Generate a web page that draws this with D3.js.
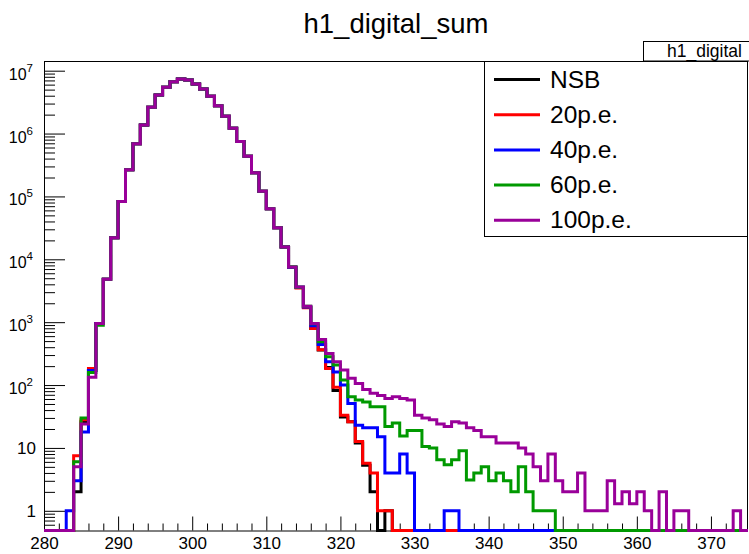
<!doctype html>
<html lang="en">
<head>
<meta charset="utf-8">
<title>h1_digital_sum</title>
<script src="https://cdn.jsdelivr.net/npm/d3@7"></script>
<style>
  body { margin: 0; background: #fff; }
  svg text { font-family: "Liberation Sans", Arial, Helvetica, sans-serif; fill: #000; }
</style>
</head>
<body>
<script>

// bins of width 1 from 280 to 375
var binEdges = d3.range(280, 376);

// bin contents, one value per bin (280 .. 374)
var nsb = [
    0, 0, 0, 0, 2, 26, 170, 950, 4800, 22100,
    83000, 265000, 687000, 1370000, 2610000, 4100000, 5430000, 6690000, 7380000, 7100000,
    6150000, 5130000, 3910000, 2780000, 1880000, 1210000, 747000, 436000, 238000, 121000,
    63800, 31800, 15700, 7450, 3600, 1720, 790, 360, 190, 82,
    31, 26, 12, 5.3, 2, 0, 1, 0, 0, 0,
    0, 0, 0, 0, 0, 0, 0, 0, 0, 0,
    0, 0, 0, 0, 0, 0, 0, 0, 0, 0,
    0, 0, 0, 0, 0, 0, 0, 0, 0, 0,
    0, 0, 0, 0, 0, 0, 0, 0, 0, 0,
    0, 0, 0, 0, 0
];
var pe20 = [
    0, 0, 0, 0, 7.5, 28, 184, 950, 4800, 22100,
    83000, 265000, 687000, 1370000, 2610000, 4100000, 5430000, 6690000, 7380000, 7100000,
    6150000, 5130000, 3910000, 2780000, 1880000, 1210000, 747000, 436000, 238000, 121000,
    63800, 31800, 15700, 7400, 3500, 1700, 790, 365, 184, 92,
    33, 26, 12.6, 5.7, 4, 1, 1, 0, 0, 0,
    0, 0, 0, 0, 0, 0, 0, 0, 0, 0,
    0, 0, 0, 0, 0, 0, 0, 0, 0, 0,
    0, 0, 0, 0, 0, 0, 0, 0, 0, 0,
    0, 0, 0, 0, 0, 0, 0, 0, 0, 0,
    0, 0, 0, 0, 0
];
var pe40 = [
    0, 0, 0, 1, 3, 18, 170, 950, 4800, 22100,
    83000, 265000, 687000, 1370000, 2610000, 4100000, 5430000, 6690000, 7380000, 7100000,
    6150000, 5130000, 3910000, 2780000, 1880000, 1210000, 747000, 436000, 238000, 121000,
    63800, 31800, 15700, 7500, 3600, 1750, 880, 440, 234, 162,
    100, 51, 23, 21, 21, 15, 4, 4, 8, 4,
    0, 0, 0, 0, 1, 1, 0, 0, 0, 0,
    0, 0, 0, 0, 0, 0, 0, 0, 0, 0,
    0, 0, 0, 0, 0, 0, 0, 0, 0, 0,
    0, 0, 0, 0, 0, 0, 0, 0, 0, 0,
    0, 0, 0, 0, 0
];
var pe60 = [
    0, 0, 0, 0, 6, 30, 158, 890, 4800, 22100,
    83000, 265000, 687000, 1370000, 2610000, 4100000, 5430000, 6690000, 7380000, 7100000,
    6150000, 5130000, 3910000, 2780000, 1880000, 1210000, 747000, 436000, 238000, 121000,
    63800, 31800, 15700, 7600, 3600, 1790, 940, 487, 281, 208,
    120, 65, 58, 54, 45, 45, 22, 25, 15.5, 19,
    19, 10.5, 10, 6.5, 5.4, 6.5, 9, 3.1, 4, 5,
    3, 4, 3, 2, 5, 2, 1, 1, 1, 0,
    0, 0, 0, 0, 0, 0, 0, 0, 0, 0,
    0, 0, 0, 0, 0, 0, 0, 0, 0, 0,
    0, 0, 0, 0, 0
];
var pe100 = [
    0, 0, 0, 0, 5, 24, 133, 950, 4800, 22100,
    83000, 265000, 687000, 1370000, 2610000, 4100000, 5430000, 6690000, 7380000, 7100000,
    6150000, 5130000, 3910000, 2780000, 1880000, 1210000, 747000, 436000, 238000, 121000,
    63800, 31800, 15700, 7550, 3630, 1800, 950, 531, 318, 234,
    173, 128, 106, 85, 74, 68, 61, 65, 61, 58,
    33, 30, 28, 24, 22, 26, 25, 21, 19, 15,
    15, 12, 12, 12, 10, 8, 5, 3, 8, 3,
    2, 2, 4, 1, 1, 1, 3, 1.3, 2, 1.3,
    2, 1, 0, 2, 0, 1, 1, 0, 0, 0,
    0, 0, 0, 1, 0
];

var seriesNames = ["NSB", "20p.e.", "40p.e.", "60p.e.", "100p.e."];
var seriesColors = ["#000000", "#ff0000", "#0000ff", "#009900", "#990099"];
var seriesData = [nsb, pe20, pe40, pe60, pe100];

var xTicks = [280, 290, 300, 310, 320, 330, 340, 350, 360, 370];
var yDecades = [1, 10, 100, 1000, 10000, 100000, 1000000, 10000000];

var svgW = 749;
var svgH = 554;
var frame = {left: 44, right: 748, top: 61, bottom: 530.5};

var x = d3.scaleLinear()
          .domain([280, 375])
          .range([frame.left, frame.right]);

var y = d3.scaleLog()
          .domain([0.486, 1.426e7])
          .range([frame.bottom, frame.top]);

var svg = d3.select("body")
            .append("svg")
            .attr("width", svgW)
            .attr("height", svgH);

svg.append("rect")
   .attr("width", svgW)
   .attr("height", svgH)
   .attr("fill", "#fff");

// title
svg.append("text")
   .attr("x", (frame.left + frame.right) / 2)
   .attr("y", 33)
   .attr("text-anchor", "middle")
   .style("font-size", "27.5px")
   .text("h1_digital_sum");

// stats box (runs past the right edge)
svg.append("rect")
   .attr("x", 643.5)
   .attr("y", 41.5)
   .attr("width", 140)
   .attr("height", 19.5)
   .attr("fill", "#fff")
   .attr("stroke", "#000")
   .attr("stroke-width", 1);
svg.append("text")
   .attr("x", 667)
   .attr("y", 57)
   .style("font-size", "17.5px")
   .text("h1_digital");

// frame
svg.append("rect")
   .attr("x", frame.left + 0.5)
   .attr("y", frame.top + 0.5)
   .attr("width", frame.right - frame.left - 1)
   .attr("height", frame.bottom - frame.top)
   .attr("fill", "none")
   .attr("stroke", "#000")
   .attr("stroke-width", 1);

// x axis: major ticks with labels, minor every 2
var xMinor = d3.range(282, 375, 2).filter(d => d % 10 != 0);

var xAxisMajor = d3.axisBottom(x)
                   .tickValues(xTicks)
                   .tickSize(-14)
                   .tickSizeOuter(0)
                   .tickPadding(6)
                   .tickFormat(d3.format("d"));
var xAxisMinor = d3.axisBottom(x)
                   .tickValues(xMinor)
                   .tickSize(-7)
                   .tickSizeOuter(0)
                   .tickFormat("");

var gx = svg.append("g")
            .attr("transform", "translate(0," + frame.bottom + ")")
            .call(xAxisMajor);
svg.append("g")
   .attr("transform", "translate(0," + frame.bottom + ")")
   .call(xAxisMinor);
svg.selectAll(".domain").remove();
gx.selectAll("text")
  .style("font-size", "17px")
  .style("font-family", "'Liberation Sans', Arial, sans-serif");

// y axis: decades and 2..9 minors
var yMinor = [];
[-1, 0, 1, 2, 3, 4, 5, 6, 7].forEach(function(p) {
    [2, 3, 4, 5, 6, 7, 8, 9].forEach(function(k) {
        var v = k * Math.pow(10, p);
        if (v >= y.domain()[0] && v <= y.domain()[1]) yMinor.push(v);
    });
});

svg.append("g")
   .attr("transform", "translate(" + frame.left + ",0)")
   .call(d3.axisLeft(y).tickValues(yDecades).tickSize(-21).tickSizeOuter(0).tickFormat(""));
svg.append("g")
   .attr("transform", "translate(" + frame.left + ",0)")
   .call(d3.axisLeft(y).tickValues(yMinor).tickSize(-11).tickSizeOuter(0).tickFormat(""));
svg.selectAll(".domain").remove();

// y labels: 1, 10, then 10^n
yDecades.forEach(function(v) {
    var p = Math.round(Math.log10(v));
    if (p < 2) {
        svg.append("text")
           .attr("x", 36)
           .attr("y", y(v) + 6.5)
           .attr("text-anchor", "end")
           .style("font-size", "17px")
           .text(String(v));
    } else {
        var t = svg.append("text")
                   .attr("x", 33)
                   .attr("y", y(v) + 9)
                   .attr("text-anchor", "end")
                   .style("font-size", "16px");
        t.append("tspan").text("10");
        t.append("tspan")
         .attr("dy", -8)
         .style("font-size", "11.5px")
         .text(String(p));
    }
});

// histograms
svg.append("clipPath")
   .attr("id", "frameClip")
   .append("rect")
   .attr("x", frame.left)
   .attr("y", frame.top)
   .attr("width", frame.right - frame.left)
   .attr("height", frame.bottom - frame.top + 2);

var line = d3.line();

var stepPoints = function(vals) {
    var pts = [[x(binEdges[0]), frame.bottom]];
    vals.forEach(function(v, i) {
        var yy = v > 0 ? y(v) : frame.bottom;
        pts.push([x(binEdges[i]), yy]);
        pts.push([x(binEdges[i + 1]), yy]);
    });
    pts.push([x(binEdges[binEdges.length - 1]), frame.bottom]);
    return pts;
};

var hists = svg.append("g")
               .attr("clip-path", "url(#frameClip)");

hists.selectAll("path")
     .data(seriesData)
     .enter()
     .append("path")
     .attr("d", d => line(stepPoints(d)))
     .attr("fill", "none")
     .attr("stroke", (d, i) => seriesColors[i])
     .attr("stroke-width", 3);

// legend
var legend = svg.append("g");
legend.append("rect")
      .attr("x", 484.5)
      .attr("y", 61.5)
      .attr("width", 263)
      .attr("height", 175)
      .attr("fill", "#fff")
      .attr("stroke", "#000")
      .attr("stroke-width", 1);

seriesNames.forEach(function(name, i) {
    var cy = 79.5 + i * 35.2;
    legend.append("line")
          .attr("x1", 494)
          .attr("x2", 540)
          .attr("y1", cy)
          .attr("y2", cy)
          .attr("stroke", seriesColors[i])
          .attr("stroke-width", 3);
    legend.append("text")
          .attr("x", 550)
          .attr("y", cy + 8)
          .style("font-size", "24.5px")
          .text(name);
});

</script>
</body>
</html>
